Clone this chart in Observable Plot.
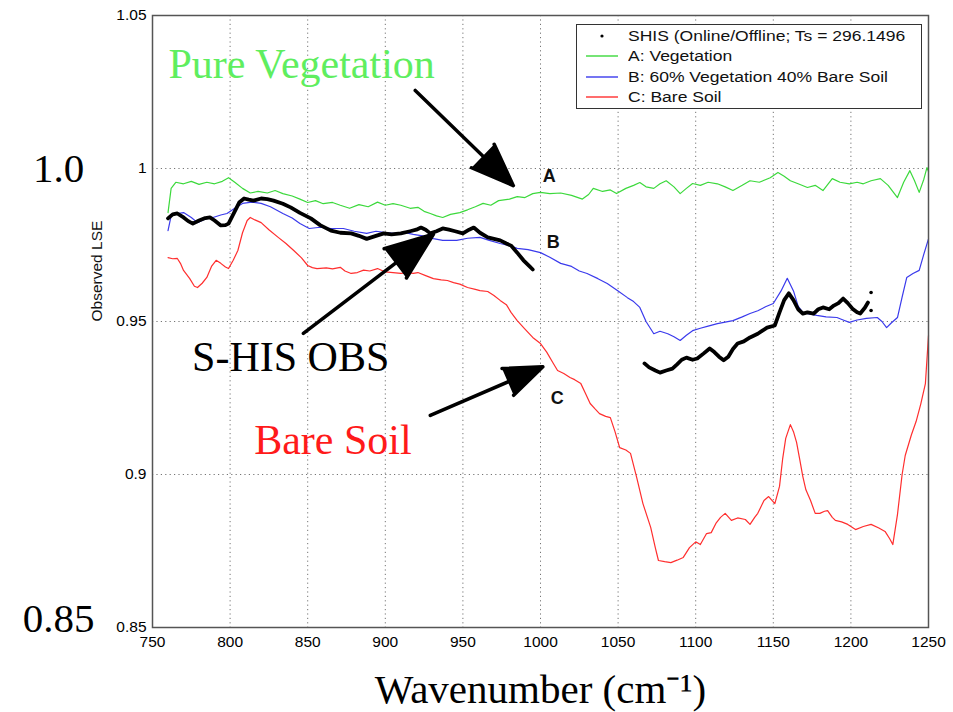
<!DOCTYPE html>
<html>
<head>
<meta charset="utf-8">
<script src="https://cdn.jsdelivr.net/npm/d3@7"></script>
<script src="https://cdn.jsdelivr.net/npm/@observablehq/plot@0.6"></script>
<style>
  body { margin: 0; background: #fff; }
  #wrap { position: relative; width: 953px; height: 712px; }
  #legend { position: absolute; left: 576px; top: 24px; width: 346px; height: 85px;
    border: 1px solid #333; background: #fff; font-family: "Liberation Sans", Arial, sans-serif;
    font-size: 15.5px; color: #111; box-sizing: border-box; }
  .row { position: absolute; left: 0; height: 20px; line-height: 20px; white-space: nowrap; }
  .row svg { position: absolute; left: 8px; top: 0; }
  .row span { position: absolute; left: 51px; top: 0; transform: scaleX(1.13); transform-origin: 0 50%; }
</style>
</head>
<body>
<div id="wrap"></div>
<script>
// ---- data ----
const xTicks = [750, 800, 850, 900, 950, 1000, 1050, 1100, 1150, 1200, 1250];
const yTicks = [0.85, 0.9, 0.95, 1, 1.05];

const seriesNames = ["SHIS (Online/Offline; Ts = 296.1496", "A: Vegetation", "B: 60% Vegetation 40% Bare Soil", "C: Bare Soil"];

// A: Vegetation [wavenumber, LSE]
const vegA = [
[760,0.9856],[762,0.9935],[765,0.9955],[770,0.9950],[775,0.9958],[780,0.9948],[785,0.9955],[790,0.9950],[795,0.9958],[799,0.9970],
[803,0.9955],[808,0.9935],[813,0.9920],[818,0.9925],[824,0.9920],[829,0.9928],[834,0.9918],[840,0.9910],[845,0.9900],[850,0.9889],
[855,0.9895],[860,0.9885],[866,0.9889],[871,0.9880],[877,0.9870],[883,0.9882],[889,0.9875],[895,0.9890],[900,0.9880],[905,0.9885],
[910,0.9880],[916,0.9870],[921,0.9873],[925,0.9860],[929,0.9853],[933,0.9845],[937,0.9840],[942,0.9850],[948,0.9856],[953,0.9865],
[958,0.9875],[963,0.9886],[968,0.9880],[973,0.9895],[980,0.9900],[985,0.9908],[990,0.9905],[995,0.9918],[1000,0.9922],[1006,0.9918],
[1013,0.9920],[1020,0.9912],[1027,0.9900],[1031,0.9915],[1034,0.9935],[1040,0.9925],[1045,0.9930],[1049,0.9918],[1055,0.9935],[1060,0.9945],
[1064,0.9954],[1068,0.9940],[1073,0.9935],[1077,0.9950],[1081,0.9960],[1086,0.9940],[1090,0.9918],[1094,0.9935],[1098,0.9951],[1103,0.9945],
[1108,0.9955],[1114,0.9950],[1119,0.9940],[1124,0.9928],[1130,0.9945],[1135,0.9960],[1141,0.9955],[1148,0.9970],[1153,0.9987],[1157,0.9975],
[1161,0.9960],[1166,0.9950],[1172,0.9938],[1177,0.9945],[1182,0.9928],[1188,0.9967],[1193,0.9955],[1199,0.9950],[1204,0.9955],[1208,0.9950],
[1213,0.9960],[1219,0.9967],[1224,0.9945],[1230,0.9905],[1234,0.9955],[1238,0.9993],[1241,0.9960],[1244,0.9922],[1247,0.9965],[1249,1.0003],[1250,0.9990]
];

// B: 60% Vegetation 40% Bare Soil
const mixB = [
[760,0.9797],[762,0.9845],[766,0.9853],[770,0.9856],[775,0.9840],[779,0.9823],[784,0.9835],[789,0.9840],[794,0.9848],[798,0.9853],
[803,0.9870],[808,0.9886],[814,0.9890],[820,0.9886],[826,0.9875],[834,0.9853],[840,0.9838],[845,0.9820],[851,0.9804],[858,0.9808],
[865,0.9804],[873,0.9804],[880,0.9795],[888,0.9788],[894,0.9795],[899,0.9791],[905,0.9788],[912,0.9791],[918,0.9785],[924,0.9780],
[931,0.9771],[937,0.9765],[946,0.9765],[953,0.9772],[961,0.9775],[967,0.9765],[974,0.9755],[980,0.9748],[985,0.9739],[992,0.9735],
[1000,0.9725],[1006,0.9710],[1013,0.9690],[1020,0.9680],[1025,0.9665],[1030,0.9657],[1037,0.9640],[1043,0.9624],[1050,0.9600],[1056,0.9578],
[1060,0.9565],[1064,0.9546],[1068,0.9500],[1073,0.9460],[1077,0.9468],[1082,0.9460],[1086,0.9450],[1090,0.9438],[1094,0.9455],[1098,0.9470],
[1103,0.9478],[1108,0.9485],[1114,0.9493],[1119,0.9498],[1124,0.9503],[1130,0.9515],[1135,0.9526],[1140,0.9535],[1145,0.9548],[1150,0.9559],
[1155,0.9600],[1159,0.9641],[1163,0.9600],[1166,0.9550],[1169,0.9530],[1173,0.9525],[1178,0.9520],[1184,0.9515],[1191,0.9513],[1195,0.9505],
[1199,0.9497],[1204,0.9505],[1210,0.9510],[1217,0.9513],[1220,0.9500],[1223,0.9480],[1226,0.9495],[1230,0.9513],[1233,0.9580],[1236,0.9644],
[1240,0.9657],[1244,0.9667],[1247,0.9720],[1250,0.9770]
];

// C: Bare Soil
const soilC = [
[760,0.9709],[763,0.9705],[766,0.9706],[768,0.9690],[770,0.9667],[774,0.9640],[777,0.9615],[779,0.9611],[782,0.9625],[785,0.9644],
[788,0.9680],[791,0.9700],[794,0.9690],[797,0.9678],[799,0.9673],[802,0.9700],[805,0.9732],[808,0.9790],[811,0.9830],[813,0.9840],
[816,0.9832],[820,0.9823],[825,0.9800],[831,0.9775],[836,0.9755],[841,0.9732],[846,0.9708],[850,0.9683],[853,0.9676],[856,0.9673],
[862,0.9675],[866,0.9672],[871,0.9677],[874,0.9665],[878,0.9657],[882,0.9660],[886,0.9668],[890,0.9665],[895,0.9673],[900,0.9662],
[905,0.9660],[910,0.9657],[915,0.9660],[918,0.9657],[921,0.9660],[926,0.9650],[931,0.9640],[936,0.9636],[940,0.9634],[944,0.9627],
[948,0.9622],[953,0.9611],[958,0.9605],[961,0.9601],[966,0.9598],[970,0.9585],[974,0.9569],[978,0.9555],[981,0.9530],[985,0.9503],
[990,0.9475],[995,0.9448],[1000,0.9428],[1004,0.9400],[1008,0.9365],[1011,0.9340],[1015,0.9330],[1019,0.9317],[1022,0.9310],[1026,0.9297],
[1029,0.9265],[1032,0.9232],[1035,0.9215],[1038,0.9199],[1042,0.9190],[1045,0.9186],[1048,0.9140],[1051,0.9088],[1055,0.9080],[1058,0.9069],
[1062,0.8990],[1066,0.8905],[1071,0.8827],[1074,0.8760],[1076,0.8719],[1080,0.8715],[1084,0.8712],[1088,0.8720],[1092,0.8729],[1096,0.8761],
[1100,0.8780],[1103,0.8771],[1107,0.8807],[1110,0.8810],[1113,0.8840],[1116,0.8860],[1119,0.8873],[1123,0.8850],[1127,0.8858],[1132,0.8853],
[1135,0.8837],[1138,0.8860],[1140,0.8873],[1144,0.8915],[1147,0.8928],[1151,0.8905],[1154,0.8961],[1156,0.9050],[1158,0.9118],[1161,0.9163],
[1163,0.9140],[1165,0.9105],[1167,0.9050],[1169,0.8994],[1171,0.8950],[1174,0.8915],[1177,0.8873],[1180,0.8873],[1183,0.8880],[1185,0.8882],
[1188,0.8860],[1190,0.8850],[1194,0.8845],[1198,0.8837],[1203,0.8820],[1208,0.8830],[1213,0.8837],[1218,0.8825],[1222,0.8814],[1225,0.8790],
[1227,0.8771],[1230,0.8869],[1233,0.9000],[1235,0.9062],[1239,0.9130],[1242,0.9173],[1245,0.9230],[1248,0.9297],[1250,0.9454]
];

// S-HIS observation, first band
const shis1 = [
[760,0.9837],[763,0.9850],[766,0.9853],[770,0.9840],[773,0.9828],[776,0.9820],[780,0.9830],[784,0.9838],[787,0.9840],[790,0.9830],
[794,0.9814],[797,0.9815],[799,0.9820],[803,0.9860],[806,0.9890],[809,0.9902],[812,0.9898],[815,0.9895],[820,0.9902],[824,0.9900],
[828,0.9895],[834,0.9885],[839,0.9873],[845,0.9855],[852,0.9837],[858,0.9815],[865,0.9797],[871,0.9790],[878,0.9788],[883,0.9780],
[888,0.9770],[893,0.9778],[899,0.9788],[904,0.9785],[910,0.9788],[916,0.9795],[920,0.9800],[923,0.9807],[926,0.9800],[929,0.9788],
[933,0.9795],[937,0.9804],[941,0.9800],[945,0.9795],[950,0.9788],[954,0.9800],[957,0.9807],[961,0.9790],[966,0.9775],[970,0.9770],
[974,0.9765],[978,0.9755],[981,0.9748],[985,0.9725],[989,0.9700],[993,0.9680],[995,0.9670]
];
// S-HIS observation, second band
const shis2 = [
[1067,0.9363],[1070,0.9350],[1074,0.9340],[1077,0.9333],[1081,0.9340],[1085,0.9346],[1088,0.9360],[1091,0.9375],[1094,0.9382],[1098,0.9375],
[1101,0.9379],[1105,0.9395],[1109,0.9412],[1112,0.9400],[1115,0.9385],[1118,0.9373],[1121,0.9385],[1124,0.9410],[1127,0.9428],[1131,0.9435],
[1135,0.9448],[1140,0.9460],[1143,0.9470],[1146,0.9480],[1151,0.9487],[1154,0.9530],[1157,0.9570],[1160,0.9592],[1163,0.9570],[1166,0.9540],
[1169,0.9526],[1172,0.9530],[1176,0.9526],[1179,0.9540],[1182,0.9546],[1186,0.9540],[1189,0.9552],[1192,0.9560],[1195,0.9575],[1198,0.9560],
[1201,0.9542],[1204,0.9530],[1206,0.9526],[1209,0.9545],[1211,0.9562]
];
const shisDots = [[1213,0.9595],[1213,0.9536]];

// annotations (data coordinates)
const curveLabels = [
  {text: "A", x: 1005.6, y: 0.9974},
  {text: "B", x: 1008.2, y: 0.9758},
  {text: "C", x: 1010.8, y: 0.9248}
];
const bigLabels = [
  {text: "Pure Vegetation", x: 760.3, y: 1.0340, color: "#5fee5f"},
  {text: "S-HIS OBS", x: 775.5, y: 0.9382, color: "#000000"},
  {text: "Bare Soil", x: 815.5, y: 0.9111, color: "#ff1a1a"}
];
const arrows = [
  {x1: 919.3, y1: 1.0255, x2: 982.5, y2: 0.9944},
  {x1: 847.2, y1: 0.9461, x2: 931.0, y2: 0.9785},
  {x1: 929.0, y1: 0.9193, x2: 1001.5, y2: 0.9352}
];
const sideLabels = [
  {text: "1.0", y: 1.0},
  {text: "0.85", y: 0.8529}
];

const colors = {shis: "#000000", A: "#3cd93c", B: "#3a3aec", C: "#ff2e2e"};
const sans = "'Liberation Sans', Arial, sans-serif";
const serif = "'Liberation Serif', 'Times New Roman', serif";

const chart = Plot.plot({
  width: 953,
  height: 712,
  marginLeft: 152,
  marginRight: 25,
  marginTop: 15,
  marginBottom: 85,
  style: {fontFamily: sans, background: "#fff"},
  x: {domain: [750, 1250]},
  y: {domain: [0.85, 1.05]},
  marks: [
    Plot.gridX(xTicks, {stroke: "#666", strokeOpacity: 0.9, strokeDasharray: "1.2,3.2"}),
    Plot.gridY(yTicks, {stroke: "#666", strokeOpacity: 0.9, strokeDasharray: "1.2,3.2"}),
    Plot.axisX(xTicks, {tickSize: 0, tickPadding: 8, fontSize: 15.5, label: null, tickFormat: d => String(d)}),
    Plot.axisY(yTicks, {tickSize: 0, tickPadding: 6, fontSize: 15.5, label: null, tickFormat: d => String(d)}),
    Plot.text(["Observed LSE"], {frameAnchor: "left", dx: -55, rotate: -90, fontSize: 15.5, fill: "#111", lineAnchor: "middle"}),
    Plot.text(["Wavenumber (cm⁻¹)"], {frameAnchor: "bottom", dy: 62, fontSize: 41, fontFamily: serif, fill: "#000", lineAnchor: "middle"}),
    Plot.text(sideLabels, {x: () => 750, y: "y", text: "text", dx: -94, fontSize: 41, fontFamily: serif, fill: "#000", lineAnchor: "middle", textAnchor: "middle"}),
    Plot.line(vegA, {x: "0", y: "1", stroke: colors.A, strokeWidth: 1.2}),
    Plot.line(mixB, {x: "0", y: "1", stroke: colors.B, strokeWidth: 1.2}),
    Plot.line(soilC, {x: "0", y: "1", stroke: colors.C, strokeWidth: 1.2}),
    Plot.line(shis1, {x: "0", y: "1", stroke: colors.shis, strokeWidth: 3.8, strokeLinejoin: "round"}),
    Plot.line(shis2, {x: "0", y: "1", stroke: colors.shis, strokeWidth: 3.8, strokeLinejoin: "round"}),
    Plot.dot(shisDots, {x: "0", y: "1", r: 1.8, fill: colors.shis}),
    Plot.frame({stroke: "#555", strokeWidth: 1.5}),
    Plot.text(curveLabels, {x: "x", y: "y", text: "text", fontSize: 18, fontWeight: "bold", fill: "#111"}),
    Plot.text(bigLabels, {x: "x", y: "y", text: "text", fill: "color", fontSize: 42, fontFamily: serif, textAnchor: "start", lineAnchor: "middle"}),
    Plot.arrow(arrows, {x1: "x1", y1: "y1", x2: "x2", y2: "y2", stroke: "#000", fill: "#000", strokeWidth: 3.5, headLength: 22, headAngle: 42, strokeLinejoin: "miter"})
  ]
});

const wrap = document.getElementById("wrap");
wrap.appendChild(chart);

// legend
const legendRows = [
  {name: seriesNames[0], kind: "dot", color: colors.shis},
  {name: seriesNames[1], kind: "line", color: colors.A},
  {name: seriesNames[2], kind: "line", color: colors.B},
  {name: seriesNames[3], kind: "line", color: colors.C}
];
const legend = document.createElement("div");
legend.id = "legend";
legendRows.forEach((r, i) => {
  const row = document.createElement("div");
  row.className = "row";
  row.style.top = (1 + i * 20.3) + "px";
  const sym = r.kind === "dot"
    ? `<svg width="34" height="20"><circle cx="17" cy="10" r="1.6" fill="${r.color}"/></svg>`
    : `<svg width="34" height="20"><line x1="1" x2="33" y1="10" y2="10" stroke="${r.color}" stroke-width="1.4"/></svg>`;
  row.innerHTML = sym + `<span>${r.name}</span>`;
  legend.appendChild(row);
});
wrap.appendChild(legend);
</script>
</body>
</html>
